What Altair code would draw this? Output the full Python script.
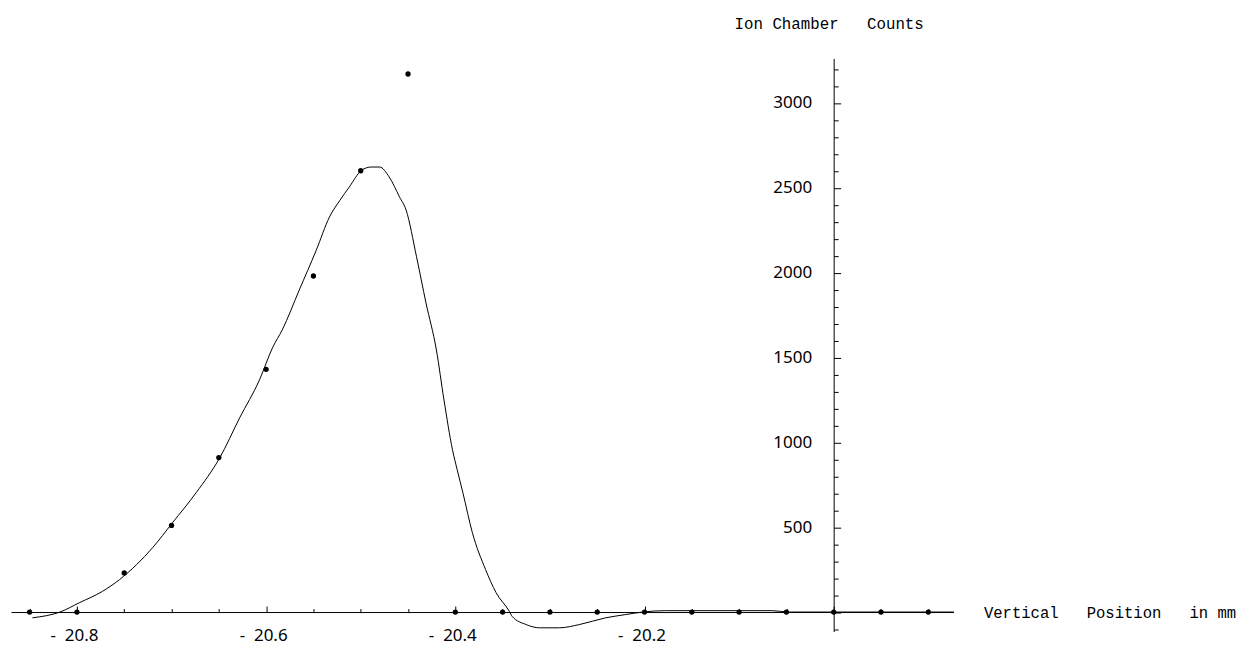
import altair as alt
import pandas as pd

# measured data points (vertical position in mm, ion chamber counts)
pos_mm = [-20.85, -20.80, -20.75, -20.70, -20.65, -20.60, -20.55, -20.50, -20.45,
          -20.40, -20.35, -20.30, -20.25, -20.20, -20.15, -20.10, -20.05, -20.00,
          -19.95, -19.90]
counts = [0, 0, 230, 510, 910, 1430, 1980, 2600, 3170,
          0, 0, 0, 0, 0, 0, 0, 0, 0,
          0, 0]

# fitted curve
fit_x = [-20.847, -20.818, -20.797, -20.773, -20.755, -20.737, -20.720, -20.699,
         -20.674, -20.649, -20.628, -20.607, -20.593, -20.583, -20.565, -20.547,
         -20.533, -20.522, -20.512, -20.499, -20.489, -20.480, -20.470, -20.459,
         -20.452, -20.441, -20.431, -20.420, -20.412, -20.403, -20.398, -20.392,
         -20.382, -20.368, -20.357, -20.343, -20.340, -20.325, -20.311, -20.290,
         -20.269, -20.241, -20.220, -20.202, -20.178, -20.065, -20.047, -19.873]
fit_y = [-34, 0, 56, 122, 191, 279, 379, 526,
         703, 909, 1144, 1368, 1560, 1662, 1897, 2132,
         2328, 2426, 2505, 2603, 2622, 2622, 2564, 2446,
         2368, 2093, 1821, 1544, 1250, 956, 838, 703,
         468, 250, 115, 5, -25, -74, -93, -93,
         -74, -34, -15, 0, 8, 8, 0, 0]

x_tick_values = [-20.85, -20.80, -20.75, -20.70, -20.65, -20.60, -20.55, -20.50,
                 -20.45, -20.40, -20.35, -20.30, -20.25, -20.20, -20.15, -20.10,
                 -20.05, -20.00, -19.95, -19.90]
x_label_values = [-20.8, -20.6, -20.4, -20.2]
y_tick_values = list(range(-100, 3300, 100))
y_label_values = [500, 1000, 1500, 2000, 2500, 3000]

NB = "\u00a0"
x_title = "Vertical" + NB * 3 + "Position" + NB * 3 + "in" + NB + "mm"
y_title = "Ion" + NB + "Chamber" + NB * 3 + "Counts"

pts = pd.DataFrame({"x": pos_mm, "y": counts})
fit = pd.DataFrame({"x": fit_x, "y": fit_y})

W, H = 944, 574
X_DOMAIN = [-20.8697, -19.8734]
Y_DOMAIN = [-114.7, 3261.8]
X0_PX = 824.0   # pixel of x = -20.0 inside the plot
Y0_PX = 554.5   # pixel of y = 0 inside the plot

xs = alt.Scale(domain=X_DOMAIN, nice=False, zero=False)
ys = alt.Scale(domain=Y_DOMAIN, nice=False, zero=False)

x_tick_axis = alt.Axis(
    orient="top", offset=-Y0_PX, values=x_tick_values, labels=False, title=None,
    grid=False, domain=True, domainColor="black", domainWidth=1,
    ticks=True, tickColor="black", tickWidth=1,
    tickSize={"condition": {"test": "abs(datum.value*5 - round(datum.value*5)) < 0.001", "value": 6}, "value": 3.5},
)
y_tick_axis = alt.Axis(
    orient="right", offset=-(W - X0_PX), values=y_tick_values, labels=False, title=None,
    grid=False, domain=True, domainColor="black", domainWidth=1,
    ticks=True, tickColor="black", tickWidth=1,
    tickSize={"condition": {"test": "datum.value % 500 === 0", "value": 7}, "value": 4.5},
)
x_label_axis = alt.Axis(
    orient="bottom", offset=-(H - Y0_PX), values=x_label_values,
    labelExpr="'-" + NB + NB + "' + format(abs(datum.value), '.1f')",
    ticks=False, tickSize=0, domain=False, grid=False,
    labelFont="Noto Sans", labelFontSize=17, labelColor="black", labelPadding=16,
    labelFlush=False, labelOverlap=False, labelOffset=-3,
    title=x_title, titleFont="Liberation Mono", titleFontSize=15.6, titleFontWeight="normal",
    titleColor="black", titleX=974, titleY=5.5, titleAlign="left",
    titleBaseline="alphabetic", titleAngle=0,
)
y_label_axis = alt.Axis(
    orient="left", offset=-X0_PX, values=y_label_values, format="d",
    ticks=False, tickSize=0, domain=False, grid=False,
    labelFont="Noto Sans", labelFontSize=17, labelColor="black", labelPadding=22,
    labelFlush=False, labelOverlap=False,
    title=y_title, titleFont="Liberation Mono", titleFontSize=15.8, titleFontWeight="normal",
    titleColor="black", titleX=-5, titleY=-30, titleAlign="center",
    titleBaseline="alphabetic", titleAngle=0,
)

curve = alt.Chart(fit).mark_line(color="black", strokeWidth=1, interpolate="monotone").encode(
    x=alt.X("x:Q", scale=xs, axis=x_tick_axis),
    y=alt.Y("y:Q", scale=ys, axis=y_tick_axis),
)
dots = alt.Chart(pts).mark_circle(color="black", opacity=1, size=28).encode(
    x=alt.X("x:Q", scale=xs, axis=x_label_axis),
    y=alt.Y("y:Q", scale=ys, axis=y_label_axis),
)

chart = alt.layer(curve, dots).resolve_scale(
    x="shared", y="shared"
).resolve_axis(
    x="independent", y="independent"
).properties(
    width=W, height=H,
    autosize=alt.AutoSizeParams(type="none"),
    padding={"left": 3, "top": 50, "right": 290, "bottom": 14},
).configure_view(stroke=None)

chart.save("out.html", embed_options={"renderer": "svg", "actions": False})
